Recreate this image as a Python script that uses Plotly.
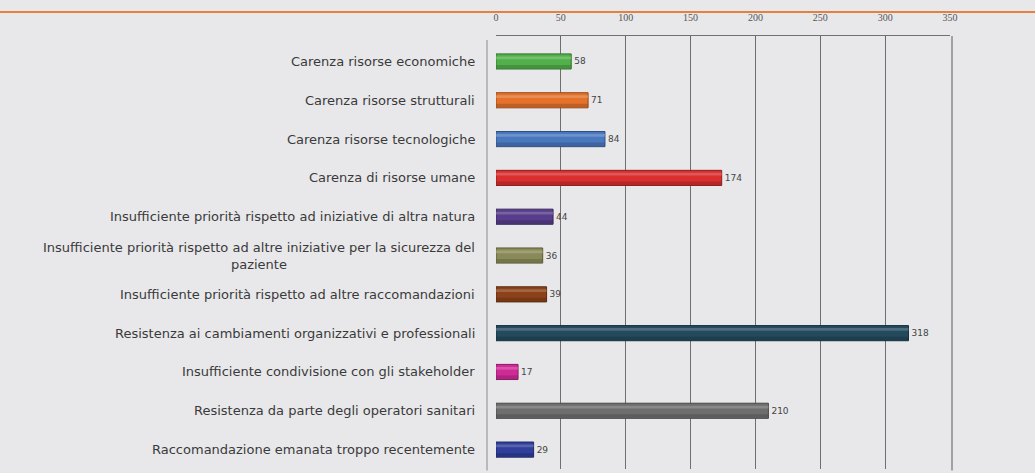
import plotly.graph_objects as go

# Motivi di mancata implementazione: categorie e conteggi
categories = [
    "Carenza risorse economiche",
    "Carenza risorse strutturali",
    "Carenza risorse tecnologiche",
    "Carenza di risorse umane",
    "Insufficiente priorità rispetto ad iniziative di altra natura",
    "Insufficiente priorità rispetto ad altre iniziative per la sicurezza del<br>paziente",
    "Insufficiente priorità rispetto ad altre raccomandazioni",
    "Resistenza ai cambiamenti organizzativi e professionali",
    "Insufficiente condivisione con gli stakeholder",
    "Resistenza da parte degli operatori sanitari",
    "Raccomandazione emanata troppo recentemente",
]
values = [58, 71, 84, 174, 44, 36, 39, 318, 17, 210, 29]
bar_colors = [
    "#52b04a", "#e4722a", "#4a78bf", "#d92f2f", "#573d8c", "#8a8a58",
    "#8b4219", "#244a5e", "#d02a98", "#6e6e6e", "#2f3f9b",
]
x_ticks = [0, 50, 100, 150, 200, 250, 300, 350]

W, H = 1035, 473
L, R, T, B = 496, 85, 36, 3.5
PW, PH = W - L - R, H - T - B
BG = "#e8e8ea"


def px_x(px):
    return (px - L) / PW


def px_y(py):
    return (H - B - py) / PH


def mix(hex_color, other, t):
    a = [int(hex_color[i:i + 2], 16) for i in (1, 3, 5)]
    b = [int(other[i:i + 2], 16) for i in (1, 3, 5)]
    c = [round(x + (y - x) * t) for x, y in zip(a, b)]
    return "#{:02x}{:02x}{:02x}".format(*c)


dark = [mix(c, "#000000", 0.35) for c in bar_colors]
light = [mix(c, "#ffffff", 0.35) for c in bar_colors]

fig = go.Figure()

# main cylinder body
fig.add_trace(go.Bar(
    x=values, y=categories, orientation="h",
    width=0.39, offset=-0.195,
    marker=dict(color=bar_colors, line=dict(color=dark, width=1)),
    texttemplate="%{x}", textposition="outside",
    textfont=dict(family="DejaVu Sans", size=9, color="#444444"),
    cliponaxis=False, hoverinfo="skip", showlegend=False,
))
# lower shading stripe
fig.add_trace(go.Bar(
    x=values, y=categories, orientation="h",
    width=0.09, offset=0.09,
    marker=dict(color=dark, line=dict(width=0), opacity=0.45),
    hoverinfo="skip", showlegend=False,
))
# upper highlight stripe
fig.add_trace(go.Bar(
    x=values, y=categories, orientation="h",
    width=0.07, offset=-0.13,
    marker=dict(color=light, line=dict(width=0), opacity=0.55),
    hoverinfo="skip", showlegend=False,
))

# category labels, right aligned next to the axis
annotations = []
for cat in categories:
    annotations.append(dict(
        x=px_x(477), xref="paper", y=cat, yref="y",
        text=cat, showarrow=False, xanchor="right", yanchor="middle",
        align="center",
        font=dict(family="DejaVu Sans", size=13, color="#3a3a3a"),
    ))

shapes = [
    # orange rule across the top
    dict(type="line", xref="paper", yref="paper",
         x0=px_x(0), x1=px_x(W), y0=px_y(12), y1=px_y(12),
         line=dict(color="#e5813f", width=2)),
    # left wall edge
    dict(type="line", xref="paper", yref="paper",
         x0=px_x(487), x1=px_x(487), y0=px_y(40), y1=px_y(471),
         line=dict(color="#8a8a8a", width=1)),
    # right wall edge
    dict(type="line", xref="paper", yref="paper",
         x0=px_x(952), x1=px_x(952), y0=px_y(36), y1=px_y(471),
         line=dict(color="#8a8a8a", width=1.5)),
]

fig.update_layout(
    width=W, height=H,
    margin=dict(l=L, r=R, t=T, b=B, autoexpand=False),
    paper_bgcolor=BG, plot_bgcolor=BG,
    barmode="overlay",
    showlegend=False,
    annotations=annotations,
    shapes=shapes,
    xaxis=dict(
        side="top", range=[0, 350], tickvals=x_ticks,
        ticks="inside", ticklen=4, tickcolor="#666666",
        showline=True, linecolor="#707070", linewidth=1,
        showgrid=True, gridcolor="#6f6f6f", gridwidth=1,
        zeroline=False,
        tickfont=dict(family="Liberation Serif", size=10, color="#555555"),
        ticklabelstandoff=10,
        fixedrange=True,
    ),
    yaxis=dict(
        type="category", categoryorder="array", categoryarray=categories,
        range=[len(categories) - 0.5, -0.656],
        showticklabels=False, showgrid=False, zeroline=False,
        showline=False, ticks="",
        fixedrange=True,
    ),
)

fig.write_html("out.html")
